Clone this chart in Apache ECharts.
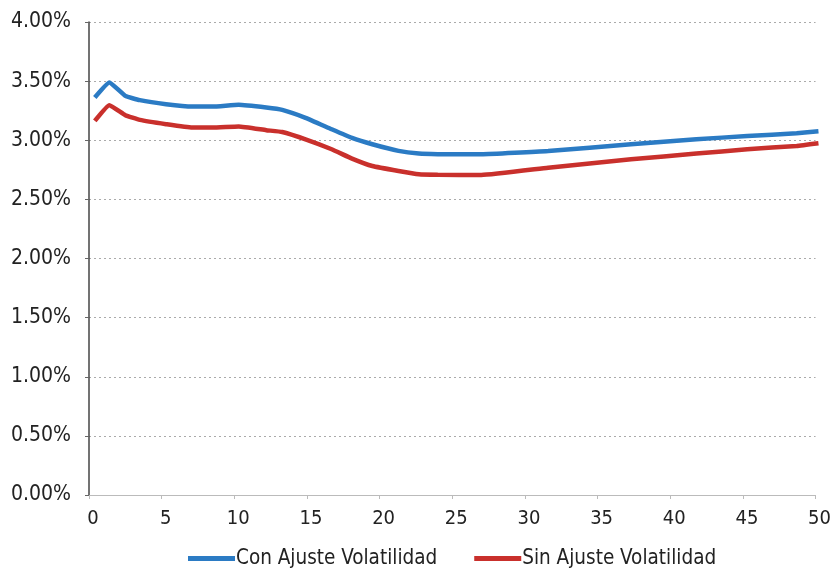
<!DOCTYPE html>
<html><head><meta charset="utf-8">
<script src="https://cdn.jsdelivr.net/npm/echarts@6/dist/echarts.min.js"></script>
<style>html,body{margin:0;padding:0;background:#fff}#c{width:834px;height:569px}</style>
</head><body><div id="c"></div>
<script>
var plazos = [0.4,1.4,2.5,3.5,5.3,7.1,8.5,10.3,12.2,13.3,14.9,16.7,18.1,19.5,21.3,22.7,24.0,27.0,31.6,37.3,41.8,45.3,48.7,50.2];
var conAjuste = [3.362,3.489,3.375,3.339,3.305,3.285,3.285,3.300,3.277,3.257,3.190,3.093,3.020,2.966,2.910,2.887,2.882,2.881,2.909,2.966,3.008,3.036,3.059,3.076];
var sinAjuste = [3.164,3.297,3.212,3.172,3.136,3.107,3.107,3.116,3.085,3.070,3.008,2.924,2.845,2.782,2.740,2.712,2.708,2.706,2.768,2.839,2.887,2.924,2.952,2.975];
var nombres = ['Con Ajuste Volatilidad','Sin Ajuste Volatilidad'];

function pares(xs, ys){ return xs.map(function(x,i){ return [x, ys[i]]; }); }
var FONT = '"Liberation Sans Narrow","DejaVu Sans Condensed","Open Sans",sans-serif';
var chart = echarts.init(document.getElementById('c'));
chart.setOption({
  animation:false,
  backgroundColor:'#fff',
  grid:{left:89,right:13,top:22,bottom:74},
  legend:{
    left:183, top:543, itemWidth:47, itemHeight:5, itemGap:37, icon:'rect',
    textStyle:{fontFamily:FONT,fontSize:20.5,color:'#222',padding:[0,0,0,-4]},
    data:nombres
  },
  xAxis:{
    type:'value', min:0, max:50, interval:5,
    axisLine:{lineStyle:{color:'#bbb',width:1}},
    axisTick:{show:true,length:4,lineStyle:{color:'#bbb'}},
    axisLabel:{fontFamily:FONT,fontSize:20,color:'#222',margin:14,padding:[0,0,0,8]},
    splitLine:{show:false}
  },
  yAxis:{
    type:'value', min:0, max:4, interval:0.5,
    axisLine:{show:true,lineStyle:{color:'#444',width:1.5}},
    axisTick:{show:true,length:4,lineStyle:{color:'#666'}},
    axisLabel:{fontFamily:FONT,fontSize:21,color:'#222',margin:18,
      formatter:function(v){return v.toFixed(2)+'%';}},
    splitLine:{show:true,lineStyle:{color:'#aaa',type:[2,3],width:1}}
  },
  series:[
    {name:nombres[0],type:'line',data:pares(plazos,conAjuste),smooth:0.12,showSymbol:false,
     lineStyle:{width:4.5,color:'#2b7bc4'},itemStyle:{color:'#2b7bc4'}},
    {name:nombres[1],type:'line',data:pares(plazos,sinAjuste),smooth:0.12,showSymbol:false,
     lineStyle:{width:4.5,color:'#c9302c'},itemStyle:{color:'#c9302c'}}
  ]
});
</script></body></html>
